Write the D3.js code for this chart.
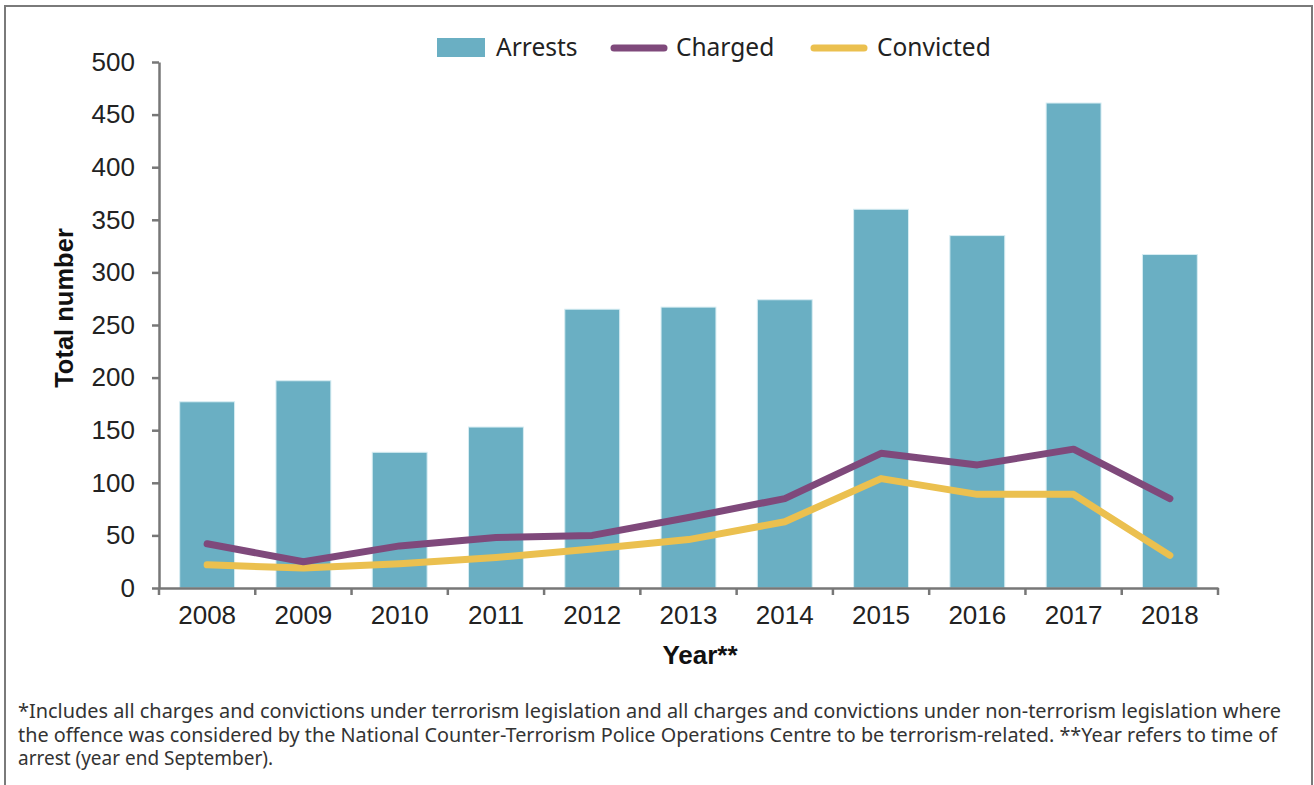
<!DOCTYPE html>
<html><head><meta charset="utf-8">
<script src="https://cdn.jsdelivr.net/npm/d3@7"></script>
<style>body{margin:0;background:#fff}svg{display:block}</style>
</head><body>
<script>
const years = ["2008","2009","2010","2011","2012","2013","2014","2015","2016","2017","2018"];
const arrests = [177,197,129,153,265,267,274,360,335,461,317];
const charged = [42,25,40,48,50,67,85,128,117,132,85];
const convicted = [22,19,23,29,37,46,63,104,89,89,31];
const yTicks = [0,50,100,150,200,250,300,350,400,450,500];
const footnote = [
 "*Includes all charges and convictions under terrorism legislation and all charges and convictions under non-terrorism legislation where",
 "the offence was considered by the National Counter-Terrorism Police Operations Centre to be terrorism-related. **Year refers to time of",
 "arrest (year end September)."
];
const footWidths = [1263, 1259, 255];
const W=1314,H=785;
const svg=d3.select("body").append("svg").attr("width",W).attr("height",H);
svg.append("rect").attr("x",5).attr("y",6).attr("width",1307).attr("height",820)
  .attr("fill","none").attr("stroke","#7a7a7a").attr("stroke-width",2);

const x=d3.scaleBand().domain(years).range([159,1218]).paddingInner(0.43).paddingOuter(0.215);
const y=d3.scaleLinear().domain([0,500]).range([588,62]);
const axisFont="'Liberation Sans', Arial, sans-serif";
const textFont="'Noto Sans', Lato, sans-serif";

// bars
svg.append("g").selectAll("rect").data(years).join("rect")
 .attr("x",d=>x(d)).attr("width",x.bandwidth())
 .attr("y",(d,i)=>y(arrests[i])).attr("height",(d,i)=>y(0)-y(arrests[i]))
 .attr("fill","#6aafc3").attr("stroke","#d6ecf2").attr("stroke-width",1);

// lines
const cx=d=>x(d)+x.bandwidth()/2;
const line=arr=>d3.line().x((d,i)=>cx(years[i])).y(d=>y(d))(arr);
svg.append("path").attr("d",line(convicted)).attr("fill","none").attr("stroke","#ebc04f")
 .attr("stroke-width",7).attr("stroke-linecap","round").attr("stroke-linejoin","round");
svg.append("path").attr("d",line(charged)).attr("fill","none").attr("stroke","#7f497b")
 .attr("stroke-width",7).attr("stroke-linecap","round").attr("stroke-linejoin","round");

// axes
const yAxis=svg.append("g").attr("transform","translate(159,0)")
 .call(d3.axisLeft(y).tickValues(yTicks).tickSize(7).tickPadding(17).tickSizeOuter(0));
const xAxis=svg.append("g").attr("transform","translate(0,588)")
 .call(d3.axisBottom(x).tickSize(0).tickPadding(18).tickSizeOuter(0));
const bounds=d3.range(years.length+1).map(i=>159+i*(1218-159)/years.length);
xAxis.selectAll(".bt").data(bounds).join("line").attr("class","bt")
 .attr("x1",d=>d).attr("x2",d=>d).attr("y1",0).attr("y2",7);
[yAxis,xAxis].forEach(g=>{
  g.selectAll("path.domain,line").attr("stroke","#777").attr("stroke-width",2.5);
  g.selectAll("text").attr("font-family",axisFont).attr("font-size",26).attr("fill","#222");
});

// axis titles
svg.append("text").attr("transform","translate(73,308) rotate(-90)").attr("text-anchor","middle")
 .attr("font-family",axisFont).attr("font-weight","bold").attr("font-size",25.5).attr("fill","#111").text("Total number");
svg.append("text").attr("x",700).attr("y",664).attr("text-anchor","middle")
 .attr("font-family",axisFont).attr("font-weight","bold").attr("font-size",26).attr("fill","#111").text("Year**");

// legend
const lg=svg.append("g").attr("font-family",textFont).attr("font-size",24.5).attr("fill","#222");
lg.append("rect").attr("x",437).attr("y",38).attr("width",48).attr("height",19).attr("fill","#6aafc3");
lg.append("text").attr("x",496).attr("y",56).text("Arrests");
lg.append("line").attr("x1",614).attr("x2",664).attr("y1",48).attr("y2",48).attr("stroke","#7f497b").attr("stroke-width",7).attr("stroke-linecap","round");
lg.append("text").attr("x",676).attr("y",56).text("Charged");
lg.append("line").attr("x1",814).attr("x2",864).attr("y1",48).attr("y2",48).attr("stroke","#ebc04f").attr("stroke-width",7).attr("stroke-linecap","round");
lg.append("text").attr("x",877).attr("y",56).text("Convicted");

// footnote
svg.append("g").selectAll("text").data(footnote).join("text")
 .attr("x",18).attr("y",(d,i)=>718+i*23.5)
 .attr("textLength",(d,i)=>footWidths[i]).attr("lengthAdjust","spacingAndGlyphs")
 .attr("font-family",textFont).attr("font-size",19).attr("fill","#333").text(d=>d);
</script>
</body></html>
